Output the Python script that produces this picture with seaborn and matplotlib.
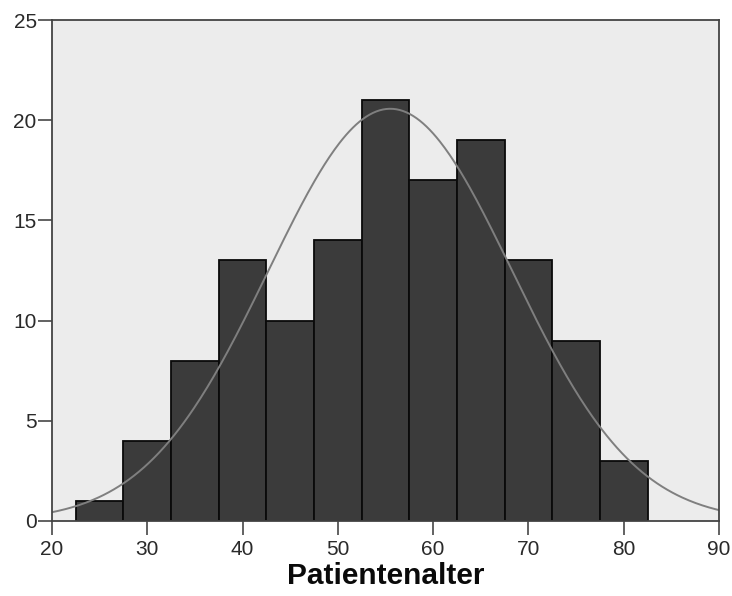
import numpy as np
import pandas as pd
import matplotlib
matplotlib.use("Agg")
import matplotlib.pyplot as plt
import seaborn as sns

# Data
bin_centers = [25, 30, 35, 40, 45, 50, 55, 60, 65, 70, 75, 80]
counts = [1, 4, 8, 13, 10, 14, 21, 17, 19, 13, 9, 3]
bin_width = 5
curve_mean = 55.5
curve_sd = 12.8
x_ticks = [20, 30, 40, 50, 60, 70, 80, 90]
y_ticks = [0, 5, 10, 15, 20, 25]
x_label = "Patientenalter"

sns.set_theme(style="white")
plt.rcParams['font.family'] = ['Liberation Sans', 'DejaVu Sans']

df = pd.DataFrame({"age": bin_centers, "n": counts})
edges = [c - bin_width / 2 for c in bin_centers] + [bin_centers[-1] + bin_width / 2]

fig = plt.figure(figsize=(7.32, 5.96), dpi=100)
ax = fig.add_axes([52 / 732, 1 - 521 / 596, (719 - 52) / 732, (521 - 20) / 596])
ax.set_facecolor("#ececec")

sns.histplot(data=df, x="age", weights="n", bins=edges, ax=ax,
             color="#3b3b3b", edgecolor="#0a0a0a", linewidth=1.3, alpha=1)

xs = np.linspace(20, 90, 400)
total = sum(counts)
ys = total * bin_width / (curve_sd * np.sqrt(2 * np.pi)) * np.exp(-0.5 * ((xs - curve_mean) / curve_sd) ** 2)
sns.lineplot(x=xs, y=ys, ax=ax, color="#7f7f7f", linewidth=1.4)

ax.set_xlim(20, 90)
ax.set_ylim(0, 25)
ax.set_xticks(x_ticks)
ax.set_yticks(y_ticks)
ax.set_xticklabels([str(t) for t in x_ticks], fontsize=15, color="#2a2a2a")
ax.set_yticklabels([str(t) for t in y_ticks], fontsize=15, color="#2a2a2a")
ax.tick_params(axis="x", direction="out", length=10, width=1.3, color="#555555",
               bottom=True, pad=4)
ax.tick_params(axis="y", direction="out", length=10, width=1.3, color="#555555",
               left=True, pad=1)
ax.set_xlabel(x_label, fontsize=21.5, fontweight="bold", color="#0a0a0a", labelpad=2)
ax.set_ylabel("")
for s in ax.spines.values():
    s.set_visible(True)
    s.set_color("#444444")
    s.set_linewidth(1.3)

fig.savefig("out.png", dpi=100, facecolor="white")
